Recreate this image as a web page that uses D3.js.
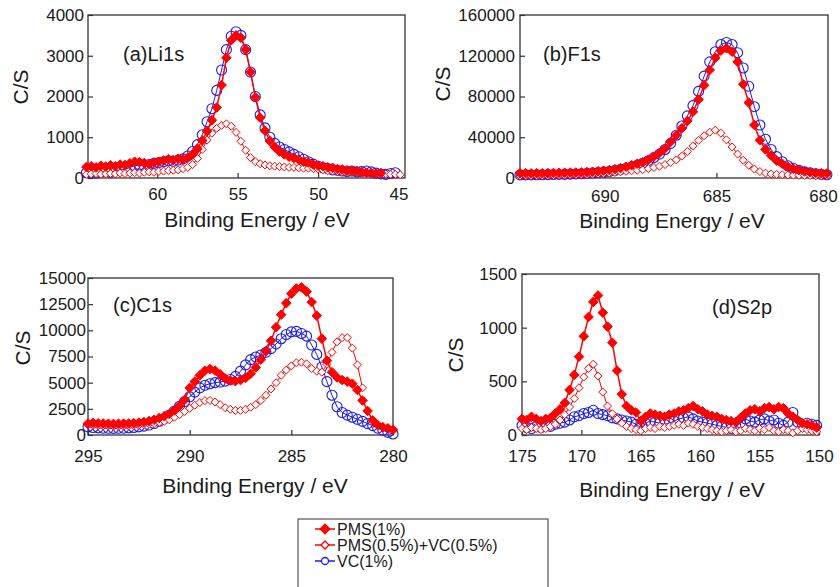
<!DOCTYPE html>
<meta charset="utf-8">
<script src="https://d3js.org/d3.v7.min.js"></script>
<style>
  body { margin: 0; background: #fff; }
  svg text { font-family: "Liberation Sans", Arial, sans-serif; fill: #1a1a1a; }
</style>
<div id="my_dataviz"></div>
<script>

// ---------------- data ----------------
var seriesNames = ["PMS(1%)", "PMS(0.5%)+VC(0.5%)", "VC(1%)"];

// (a) Li1s
var li1sEnergy = [64.4,64.1,63.8,63.5,63.2,62.9,62.6,62.3,62.0,61.7,
  61.4,61.1,60.8,60.5,60.2,59.9,59.6,59.3,59.0,58.7,
  58.4,58.1,57.8,57.5,57.2,56.9,56.6,56.3,56.0,55.7,
  55.4,55.1,54.8,54.5,54.2,53.9,53.6,53.3,53.0,52.7,
  52.4,52.1,51.8,51.5,51.2,50.9,50.6,50.3,50.0,49.7,
  49.4,49.1,48.8,48.5,48.2,47.9,47.6,47.3,47.0,46.7,
  46.4,46.1,45.8,45.5,45.2,44.9];
var li1sPms = [270,290,260,300,280,310,290,330,320,360,
  400,390,370,340,380,400,430,460,440,470,
  460,500,580,720,920,1150,1420,1730,2280,2950,
  3380,3500,3440,3150,2600,1980,1480,1160,910,760,
  650,580,520,490,450,400,380,330,300,290,
  260,250,220,210,190,180,170,150,130,120,
  110,120];
var li1sMix = [90,100,110,90,100,110,100,120,110,120,
  130,120,140,150,140,160,170,180,190,200,
  230,260,330,480,700,930,1100,1220,1290,1330,
  1270,1120,900,680,500,400,350,320,300,290,
  280,270,260,260,250,240,240,230,220,200,
  180,170,160,150,140,140,130,120,120,110,
  110,100,100,90,90,80];
var li1sVc = [130,140,120,150,160,140,180,200,210,260,
  300,320,290,330,360,380,400,420,410,440,
  470,540,650,820,1060,1380,1700,2150,2650,3150,
  3480,3590,3500,3150,2600,2000,1550,1230,1000,850,
  760,700,640,580,520,460,400,340,290,250,
  230,200,190,170,160,170,150,160,170,150,
  120,100,90,110,130];
var li1sXTicks = [60, 55, 50, 45];
var li1sYTicks = [0, 1000, 2000, 3000, 4000];

// (b) F1s
var f1sEnergy = [693.8,693.55,693.3,693.05,692.8,692.55,692.3,692.05,691.8,691.55,
  691.3,691.05,690.8,690.55,690.3,690.05,689.8,689.55,689.3,689.05,
  688.8,688.55,688.3,688.05,687.8,687.55,687.3,687.05,686.8,686.55,
  686.3,686.05,685.8,685.55,685.3,685.05,684.8,684.55,684.3,684.05,
  683.8,683.55,683.3,683.05,682.8,682.55,682.3,682.05,681.8,681.55,
  681.3,681.05,680.8,680.55,680.3,680.05];
var f1sPms = [4600,4600,4500,4700,4600,4800,4900,5000,5100,5200,
  5300,5500,5800,6100,6600,7200,7800,8600,9700,11000,
  12600,14000,15500,18000,21000,24500,29000,35500,42000,48800,
  56000,65000,77000,91000,106000,118000,125000,127300,124000,114000,
  92000,74000,52000,37000,28000,22000,17000,14000,11000,9000,
  7800,6500,5600,5000,4600,4400];
var f1sMix = [2000,2200,2100,2300,2200,2400,2500,2600,2700,2900,
  3000,3200,3400,3700,4100,4500,5000,5500,6000,6600,
  7100,7600,8200,9200,10300,11600,13200,15200,17800,21500,
  26000,31500,37000,41500,45000,47000,44000,37500,30500,23500,
  17500,12500,8800,6300,4800,4000,3500,3200,3000,2800,
  2600,2500,2400,2300,2200,2100];
var f1sVc = [3000,3100,3000,3200,3200,3300,3400,3500,3600,3800,
  4000,4200,4500,4900,5300,5800,6400,7200,8200,9400,
  10800,12500,14500,17000,20000,23500,28000,34000,42000,51000,
  61000,71000,85000,100000,114000,124000,131000,133000,131000,123000,
  108000,90000,70000,52000,38000,28000,21000,16000,12000,9500,
  7500,6000,5000,4200,3600,3200];
var f1sXTicks = [690, 685, 680];
var f1sYTicks = [0, 40000, 80000, 120000, 160000];

// (c) C1s
var c1sEnergy = [295,294.75,294.5,294.25,294,293.75,293.5,293.25,293,292.75,
  292.5,292.25,292,291.75,291.5,291.25,291,290.75,290.5,290.25,
  290,289.75,289.5,289.25,289,288.75,288.5,288.25,288,287.75,
  287.5,287.25,287,286.75,286.5,286.25,286,285.75,285.5,285.25,
  285,284.75,284.5,284.25,284,283.75,283.5,283.25,283,282.75,
  282.5,282.25,282,281.75,281.5,281.25,281,280.75,280.5,280.25,
  280];
var c1sPms = [1100,1150,1120,1100,1080,1060,1080,1090,1100,1130,
  1180,1240,1330,1450,1620,1800,2000,2350,2800,3350,
  4500,5100,5700,6150,6300,6150,5800,5400,5200,5150,
  5250,5450,5850,6450,7200,8000,9000,10300,11500,12600,
  13500,14000,14100,13700,12700,11400,9200,7100,6000,5500,
  5250,5100,4900,4300,3300,2300,1400,950,750,650,
  500];
var c1sMix = [950,930,900,880,870,860,850,860,870,900,
  940,1000,1080,1100,1200,1300,1450,1700,1950,2250,
  2550,2850,3100,3280,3300,3150,2900,2600,2450,2350,
  2350,2450,2650,2900,3300,3800,4400,5000,5700,6200,
  6600,6900,6950,6800,6350,6100,6000,6750,7900,8900,
  9300,9300,8300,6700,4500];
var c1sVc = [780,720,680,650,640,630,640,650,680,720,
  780,850,950,1100,1300,1550,1900,2300,2750,3200,
  3650,4100,4500,4750,4900,5000,5060,5150,5300,5600,
  6100,6700,7200,7450,7650,7900,8250,8700,9200,9600,
  9850,9900,9700,9450,8600,7700,6500,5100,3800,2700,
  2150,1900,1700,1500,1300,1100,900,650,450,250,
  100];
var c1sXTicks = [295, 290, 285, 280];
var c1sYTicks = [0, 2500, 5000, 7500, 10000, 12500, 15000];

// (d) S2p
var s2pEnergy = [175,174.6,174.2,173.8,173.4,173,172.6,172.2,171.8,171.4,
  171,170.6,170.2,169.8,169.4,169,168.6,168.2,167.8,167.4,
  167,166.6,166.2,165.8,165.4,165,164.6,164.2,163.8,163.4,
  163,162.6,162.2,161.8,161.4,161,160.6,160.2,159.8,159.4,
  159,158.6,158.2,157.8,157.4,157,156.6,156.2,155.8,155.4,
  155,154.6,154.2,153.8,153.4,153,152.6,152.2,151.8,151.4,
  151,150.6,150.2];
var s2pPms = [150,140,170,150,130,150,160,200,240,300,
  420,560,730,920,1100,1240,1300,1140,1010,860,
  600,380,270,230,210,130,170,200,190,180,
  170,190,200,220,230,250,270,240,220,190,
  180,170,150,140,130,120,160,200,230,240,
  220,250,260,240,260,250,200,170,140,110,
  100,90,70];
var s2pMix = [60,50,70,60,50,60,80,100,140,190,
  260,340,440,540,620,660,550,400,270,200,
  150,110,80,60,50,40,60,70,60,80,
  70,80,90,100,90,110,100,80,70,60,
  50,40,30,40,50,30,40,60,50,40,
  60,50,70,40,30,50,40,20,40,60,
  50,40,30];
var s2pVc = [90,70,60,80,70,90,80,100,110,120,
  140,170,180,200,210,230,200,190,180,160,
  150,140,130,120,100,70,110,130,120,110,
  100,110,130,150,160,170,150,130,120,110,
  100,90,80,70,60,80,110,150,130,120,
  140,150,130,140,110,90,120,210,120,80,
  110,100,90];
var s2pXTicks = [175, 170, 165, 160, 155, 150];
var s2pYTicks = [0, 500, 1000, 1500];

// ---------------- layout ----------------
var red = "#ff0000", blue = "#1c1ce6";
var tickFont = "17px", titleFont = "21px";

var panels = [
  {label: "(a)Li1s", energy: li1sEnergy, pms: li1sPms, mix: li1sMix, vc: li1sVc,
   xDomain: [64.3, 44.6], yDomain: [0, 4000], xTicks: li1sXTicks, yTicks: li1sYTicks,
   left: 88, top: 15, width: 317, height: 163, xPad: 10, yPad: 4,
   labelX: 123, labelY: 61, yTitleX: 21, yTitleY: 87, xTitleX: 257, xTitleY: 227},
  {label: "(b)F1s", energy: f1sEnergy, pms: f1sPms, mix: f1sMix, vc: f1sVc,
   xDomain: [693.8, 680], yDomain: [0, 160000], xTicks: f1sXTicks, yTicks: f1sYTicks,
   left: 520, top: 15, width: 308, height: 163, xPad: 12, yPad: 5,
   labelX: 543, labelY: 61, yTitleX: 443, yTitleY: 84, xTitleX: 672, xTitleY: 228},
  {label: "(c)C1s", energy: c1sEnergy, pms: c1sPms, mix: c1sMix, vc: c1sVc,
   xDomain: [295, 280], yDomain: [0, 15000], xTicks: c1sXTicks, yTicks: c1sYTicks,
   left: 88, top: 278, width: 305, height: 157, xPad: 15, yPad: 2,
   labelX: 113, labelY: 312, yTitleX: 23, yTitleY: 348, xTitleX: 255, xTitleY: 493},
  {label: "(d)S2p", energy: s2pEnergy, pms: s2pPms, mix: s2pMix, vc: s2pVc,
   xDomain: [175, 150], yDomain: [0, 1500], xTicks: s2pXTicks, yTicks: s2pYTicks,
   left: 522, top: 274, width: 297, height: 161, xPad: 15, yPad: 5,
   labelX: 712, labelY: 314, yTitleX: 456, yTitleY: 355, xTitleX: 672, xTitleY: 497}
];

var svg = d3.select("#my_dataviz")
  .append("svg")
    .attr("width", 840)
    .attr("height", 587);

function diamond(r) {
  return "M0," + (-r) + "L" + r + ",0L0," + r + "L" + (-r) + ",0Z";
}

// marker styles for the three series (drawn VC first, filled PMS last)
var styles = [
  {key: "vc",  color: blue, shape: "circle",  r: 5,   fill: "none", lw: 1},
  {key: "mix", color: red,  shape: "diamond", r: 4,   fill: "#fff", lw: 1},
  {key: "pms", color: red,  shape: "diamond", r: 4.8, fill: red,    lw: 1.5}
];

panels.forEach(function(p) {
  var g = svg.append("g")
    .attr("transform", "translate(" + p.left + "," + p.top + ")");

  var x = d3.scaleLinear().domain(p.xDomain).range([0, p.width]);
  var y = d3.scaleLinear().domain(p.yDomain).range([p.height, 0]);

  // axes, ticks inside the frame
  var xAxis = g.append("g")
    .attr("transform", "translate(0," + p.height + ")")
    .call(d3.axisBottom(x).tickValues(p.xTicks).tickFormat(d3.format("d"))
      .tickSizeInner(-5).tickSizeOuter(0).tickPadding(p.xPad));
  var yAxis = g.append("g")
    .call(d3.axisLeft(y).tickValues(p.yTicks).tickFormat(d3.format("d"))
      .tickSizeInner(-5).tickSizeOuter(0).tickPadding(p.yPad));
  [xAxis, yAxis].forEach(function(a) {
    a.select(".domain").remove();
    a.selectAll("line").attr("stroke", "#333").attr("stroke-width", 1.2);
    a.selectAll("text").style("font-size", tickFont)
      .style("font-family", "'Liberation Sans', Arial, sans-serif").attr("fill", "#1a1a1a");
  });
  // keep the right-most label ("680") inside the page
  xAxis.selectAll(".tick text")
    .attr("dx", function(d, i) { return (p.left + x(d) > 820) ? "-5" : null; });

  g.append("rect")
    .attr("width", p.width)
    .attr("height", p.height)
    .attr("fill", "none")
    .attr("stroke", "#333")
    .attr("stroke-width", 1.3);

  styles.forEach(function(s) {
    var vals = p[s.key];
    var pts = vals.map(function(v, i) { return [p.energy[i], v]; });

    var line = d3.line()
      .x(function(d) { return x(d[0]); })
      .y(function(d) { return y(d[1]); });
    g.append("path")
      .datum(pts)
      .attr("d", line)
      .attr("fill", "none")
      .attr("stroke", s.color)
      .attr("stroke-width", s.lw);

    var marks = g.selectAll(".m-" + s.key)
      .data(pts)
      .enter();
    if (s.shape === "circle") {
      marks.append("circle")
        .attr("cx", function(d) { return x(d[0]); })
        .attr("cy", function(d) { return y(d[1]); })
        .attr("r", s.r)
        .attr("fill", s.fill)
        .attr("stroke", s.color)
        .attr("stroke-width", 1.1);
    } else {
      marks.append("path")
        .attr("d", diamond(s.r))
        .attr("transform", function(d) { return "translate(" + x(d[0]) + "," + y(d[1]) + ")"; })
        .attr("fill", s.fill)
        .attr("stroke", s.color)
        .attr("stroke-width", 1);
    }
  });

  // panel label
  svg.append("text")
    .attr("x", p.labelX)
    .attr("y", p.labelY)
    .style("font-size", "20px")
    .text(p.label);

  // axis titles
  svg.append("text")
    .attr("transform", "translate(" + p.yTitleX + "," + p.yTitleY + ")rotate(-90)")
    .attr("dy", "0.35em")
    .style("text-anchor", "middle")
    .style("font-size", titleFont)
    .text("C/S");

  svg.append("text")
    .attr("x", p.xTitleX)
    .attr("y", p.xTitleY)
    .style("text-anchor", "middle")
    .style("font-size", titleFont)
    .text("Binding Energy / eV");
});

// legend
var legend = svg.append("g").attr("transform", "translate(298,519)");
legend.append("rect")
  .attr("width", 250)
  .attr("height", 90)
  .attr("fill", "none")
  .attr("stroke", "#333")
  .attr("stroke-width", 1);

var legendStyles = [styles[2], styles[1], styles[0]];
seriesNames.forEach(function(name, i) {
  var s = legendStyles[i];
  var row = legend.append("g").attr("transform", "translate(0," + (10 + i * 16) + ")");
  row.append("line")
    .attr("x1", 17).attr("x2", 37)
    .attr("stroke", s.color).attr("stroke-width", 1.5);
  if (s.shape === "circle") {
    row.append("circle").attr("cx", 27).attr("r", 3.5)
      .attr("fill", "#fff").attr("stroke", s.color).attr("stroke-width", 1.3);
  } else {
    row.append("path").attr("d", diamond(s.r))
      .attr("transform", "translate(27,0)")
      .attr("fill", s.fill).attr("stroke", s.color).attr("stroke-width", 1.3);
  }
  row.append("text")
    .attr("x", 39)
    .attr("dy", "0.35em")
    .style("font-size", "16px")
    .text(name);
});

</script>
